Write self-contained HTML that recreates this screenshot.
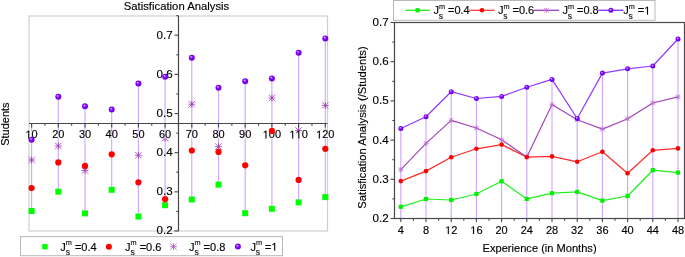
<!DOCTYPE html>
<html><head><meta charset="utf-8"><style>
html,body{margin:0;padding:0;background:#fff;}
body{width:685px;height:257px;overflow:hidden;}
svg{display:block;font-family:"Liberation Sans", sans-serif;}
text{filter:grayscale(1);stroke:#000;stroke-width:0.15px;}
</style></head><body>
<svg width="685" height="257" viewBox="0 0 685 257">
<defs>
<radialGradient id="sph" cx="0.5" cy="0.5" r="0.55" fx="0.36" fy="0.32"><stop offset="0" stop-color="#f0e4ff"/><stop offset="0.22" stop-color="#a860ff"/><stop offset="0.5" stop-color="#8000ff"/><stop offset="1" stop-color="#6800e0"/></radialGradient>
</defs>
<text x="176.5" y="9.8" font-size="11.3" text-anchor="middle" fill="#000">Satisfication Analysis</text>
<text transform="translate(9.4,124.1) rotate(-90)" font-size="11" text-anchor="middle" fill="#000">Students</text>
<rect x="29.0" y="16.0" width="298.5" height="215.0" fill="none" stroke="#cfcfcf" stroke-width="1.2"/>
<line x1="31.60" y1="123.50" x2="31.60" y2="211.00" stroke="#d0a8ff" stroke-width="1.15"/>
<line x1="58.30" y1="96.80" x2="58.30" y2="191.70" stroke="#d0a8ff" stroke-width="1.15"/>
<line x1="85.00" y1="106.30" x2="85.00" y2="213.40" stroke="#d0a8ff" stroke-width="1.15"/>
<line x1="111.70" y1="109.60" x2="111.70" y2="189.80" stroke="#d0a8ff" stroke-width="1.15"/>
<line x1="138.40" y1="83.60" x2="138.40" y2="216.50" stroke="#d0a8ff" stroke-width="1.15"/>
<line x1="165.10" y1="76.80" x2="165.10" y2="205.20" stroke="#d0a8ff" stroke-width="1.15"/>
<line x1="191.80" y1="57.70" x2="191.80" y2="199.50" stroke="#d0a8ff" stroke-width="1.15"/>
<line x1="218.50" y1="87.70" x2="218.50" y2="184.60" stroke="#d0a8ff" stroke-width="1.15"/>
<line x1="245.20" y1="81.20" x2="245.20" y2="213.20" stroke="#d0a8ff" stroke-width="1.15"/>
<line x1="271.90" y1="78.40" x2="271.90" y2="208.80" stroke="#d0a8ff" stroke-width="1.15"/>
<line x1="298.60" y1="52.70" x2="298.60" y2="202.40" stroke="#d0a8ff" stroke-width="1.15"/>
<line x1="325.30" y1="38.40" x2="325.30" y2="197.10" stroke="#d0a8ff" stroke-width="1.15"/>
<g stroke="#9a30ae" stroke-width="0.75"><line x1="28.10" y1="160.00" x2="35.10" y2="160.00"/><line x1="31.60" y1="156.50" x2="31.60" y2="163.50"/><line x1="28.38" y1="156.78" x2="34.82" y2="163.22"/><line x1="28.38" y1="163.22" x2="34.82" y2="156.78"/></g>
<g stroke="#9a30ae" stroke-width="0.75"><line x1="54.80" y1="146.00" x2="61.80" y2="146.00"/><line x1="58.30" y1="142.50" x2="58.30" y2="149.50"/><line x1="55.08" y1="142.78" x2="61.52" y2="149.22"/><line x1="55.08" y1="149.22" x2="61.52" y2="142.78"/></g>
<g stroke="#9a30ae" stroke-width="0.75"><line x1="81.50" y1="170.50" x2="88.50" y2="170.50"/><line x1="85.00" y1="167.00" x2="85.00" y2="174.00"/><line x1="81.78" y1="167.28" x2="88.22" y2="173.72"/><line x1="81.78" y1="173.72" x2="88.22" y2="167.28"/></g>
<g stroke="#9a30ae" stroke-width="0.75"><line x1="108.20" y1="133.00" x2="115.20" y2="133.00"/><line x1="111.70" y1="129.50" x2="111.70" y2="136.50"/><line x1="108.48" y1="129.78" x2="114.92" y2="136.22"/><line x1="108.48" y1="136.22" x2="114.92" y2="129.78"/></g>
<g stroke="#9a30ae" stroke-width="0.75"><line x1="134.90" y1="155.20" x2="141.90" y2="155.20"/><line x1="138.40" y1="151.70" x2="138.40" y2="158.70"/><line x1="135.18" y1="151.98" x2="141.62" y2="158.42"/><line x1="135.18" y1="158.42" x2="141.62" y2="151.98"/></g>
<g stroke="#9a30ae" stroke-width="0.75"><line x1="161.60" y1="138.20" x2="168.60" y2="138.20"/><line x1="165.10" y1="134.70" x2="165.10" y2="141.70"/><line x1="161.88" y1="134.98" x2="168.32" y2="141.42"/><line x1="161.88" y1="141.42" x2="168.32" y2="134.98"/></g>
<g stroke="#9a30ae" stroke-width="0.75"><line x1="188.30" y1="104.20" x2="195.30" y2="104.20"/><line x1="191.80" y1="100.70" x2="191.80" y2="107.70"/><line x1="188.58" y1="100.98" x2="195.02" y2="107.42"/><line x1="188.58" y1="107.42" x2="195.02" y2="100.98"/></g>
<g stroke="#9a30ae" stroke-width="0.75"><line x1="215.00" y1="146.60" x2="222.00" y2="146.60"/><line x1="218.50" y1="143.10" x2="218.50" y2="150.10"/><line x1="215.28" y1="143.38" x2="221.72" y2="149.82"/><line x1="215.28" y1="149.82" x2="221.72" y2="143.38"/></g>
<g stroke="#9a30ae" stroke-width="0.75"><line x1="241.70" y1="134.80" x2="248.70" y2="134.80"/><line x1="245.20" y1="131.30" x2="245.20" y2="138.30"/><line x1="241.98" y1="131.58" x2="248.42" y2="138.02"/><line x1="241.98" y1="138.02" x2="248.42" y2="131.58"/></g>
<g stroke="#9a30ae" stroke-width="0.75"><line x1="268.40" y1="98.00" x2="275.40" y2="98.00"/><line x1="271.90" y1="94.50" x2="271.90" y2="101.50"/><line x1="268.68" y1="94.78" x2="275.12" y2="101.22"/><line x1="268.68" y1="101.22" x2="275.12" y2="94.78"/></g>
<g stroke="#9a30ae" stroke-width="0.75"><line x1="295.10" y1="130.50" x2="302.10" y2="130.50"/><line x1="298.60" y1="127.00" x2="298.60" y2="134.00"/><line x1="295.38" y1="127.28" x2="301.82" y2="133.72"/><line x1="295.38" y1="133.72" x2="301.82" y2="127.28"/></g>
<g stroke="#9a30ae" stroke-width="0.75"><line x1="321.80" y1="105.40" x2="328.80" y2="105.40"/><line x1="325.30" y1="101.90" x2="325.30" y2="108.90"/><line x1="322.08" y1="102.18" x2="328.52" y2="108.62"/><line x1="322.08" y1="108.62" x2="328.52" y2="102.18"/></g>
<line x1="178.5" y1="16.0" x2="178.5" y2="231.0" stroke="#474747" stroke-width="1.2"/>
<line x1="29.0" y1="123.5" x2="327.5" y2="123.5" stroke="#474747" stroke-width="1.2"/>
<line x1="174.50" y1="231.00" x2="178.5" y2="231.00" stroke="#474747" stroke-width="1.1"/>
<text x="156.47" y="234.40" font-size="11.6" fill="#000">0.2</text>
<line x1="176.30" y1="211.42" x2="178.5" y2="211.42" stroke="#474747" stroke-width="1.1"/>
<line x1="174.50" y1="191.84" x2="178.5" y2="191.84" stroke="#474747" stroke-width="1.1"/>
<text x="156.47" y="195.24" font-size="11.6" fill="#000">0.3</text>
<line x1="176.30" y1="172.26" x2="178.5" y2="172.26" stroke="#474747" stroke-width="1.1"/>
<line x1="174.50" y1="152.68" x2="178.5" y2="152.68" stroke="#474747" stroke-width="1.1"/>
<text x="156.47" y="156.08" font-size="11.6" fill="#000">0.4</text>
<line x1="176.30" y1="133.10" x2="178.5" y2="133.10" stroke="#474747" stroke-width="1.1"/>
<line x1="174.50" y1="113.52" x2="178.5" y2="113.52" stroke="#474747" stroke-width="1.1"/>
<text x="156.47" y="116.92" font-size="11.6" fill="#000">0.5</text>
<line x1="176.30" y1="93.94" x2="178.5" y2="93.94" stroke="#474747" stroke-width="1.1"/>
<line x1="174.50" y1="74.36" x2="178.5" y2="74.36" stroke="#474747" stroke-width="1.1"/>
<text x="156.47" y="77.76" font-size="11.6" fill="#000">0.6</text>
<line x1="176.30" y1="54.78" x2="178.5" y2="54.78" stroke="#474747" stroke-width="1.1"/>
<line x1="174.50" y1="35.20" x2="178.5" y2="35.20" stroke="#474747" stroke-width="1.1"/>
<text x="156.47" y="38.60" font-size="11.6" fill="#000">0.7</text>
<line x1="176.30" y1="15.62" x2="178.5" y2="15.62" stroke="#474747" stroke-width="1.1"/>
<line x1="31.60" y1="123.5" x2="31.60" y2="127.5" stroke="#474747" stroke-width="1.1"/>
<rect x="25.48" y="131" width="12.24" height="7.6" fill="#fff" fill-opacity="0.7"/>
<text x="25.48" y="138.40" font-size="11" fill="#000"> 0</text><path d="M515,0L696,0L696,1409L530,1409L197,1180L197,1010L515,1237Z" fill="#000" stroke="#000" stroke-width="27.9" transform="translate(25.48,138.40) scale(0.005371,-0.005371)"/>
<line x1="44.95" y1="123.5" x2="44.95" y2="125.7" stroke="#474747" stroke-width="1.1"/>
<line x1="58.30" y1="123.5" x2="58.30" y2="127.5" stroke="#474747" stroke-width="1.1"/>
<rect x="52.18" y="131" width="12.24" height="7.6" fill="#fff" fill-opacity="0.7"/>
<text x="52.18" y="138.40" font-size="11" fill="#000">20</text>
<line x1="71.65" y1="123.5" x2="71.65" y2="125.7" stroke="#474747" stroke-width="1.1"/>
<line x1="85.00" y1="123.5" x2="85.00" y2="127.5" stroke="#474747" stroke-width="1.1"/>
<rect x="78.88" y="131" width="12.24" height="7.6" fill="#fff" fill-opacity="0.7"/>
<text x="78.88" y="138.40" font-size="11" fill="#000">30</text>
<line x1="98.35" y1="123.5" x2="98.35" y2="125.7" stroke="#474747" stroke-width="1.1"/>
<line x1="111.70" y1="123.5" x2="111.70" y2="127.5" stroke="#474747" stroke-width="1.1"/>
<rect x="105.58" y="131" width="12.24" height="7.6" fill="#fff" fill-opacity="0.7"/>
<text x="105.58" y="138.40" font-size="11" fill="#000">40</text>
<line x1="125.05" y1="123.5" x2="125.05" y2="125.7" stroke="#474747" stroke-width="1.1"/>
<line x1="138.40" y1="123.5" x2="138.40" y2="127.5" stroke="#474747" stroke-width="1.1"/>
<rect x="132.28" y="131" width="12.24" height="7.6" fill="#fff" fill-opacity="0.7"/>
<text x="132.28" y="138.40" font-size="11" fill="#000">50</text>
<line x1="151.75" y1="123.5" x2="151.75" y2="125.7" stroke="#474747" stroke-width="1.1"/>
<line x1="165.10" y1="123.5" x2="165.10" y2="127.5" stroke="#474747" stroke-width="1.1"/>
<rect x="158.98" y="131" width="12.24" height="7.6" fill="#fff" fill-opacity="0.7"/>
<text x="158.98" y="138.40" font-size="11" fill="#000">60</text>
<line x1="178.45" y1="123.5" x2="178.45" y2="125.7" stroke="#474747" stroke-width="1.1"/>
<line x1="191.80" y1="123.5" x2="191.80" y2="127.5" stroke="#474747" stroke-width="1.1"/>
<rect x="185.68" y="131" width="12.24" height="7.6" fill="#fff" fill-opacity="0.7"/>
<text x="185.68" y="138.40" font-size="11" fill="#000">70</text>
<line x1="205.15" y1="123.5" x2="205.15" y2="125.7" stroke="#474747" stroke-width="1.1"/>
<line x1="218.50" y1="123.5" x2="218.50" y2="127.5" stroke="#474747" stroke-width="1.1"/>
<rect x="212.38" y="131" width="12.24" height="7.6" fill="#fff" fill-opacity="0.7"/>
<text x="212.38" y="138.40" font-size="11" fill="#000">80</text>
<line x1="231.85" y1="123.5" x2="231.85" y2="125.7" stroke="#474747" stroke-width="1.1"/>
<line x1="245.20" y1="123.5" x2="245.20" y2="127.5" stroke="#474747" stroke-width="1.1"/>
<rect x="239.08" y="131" width="12.24" height="7.6" fill="#fff" fill-opacity="0.7"/>
<text x="239.08" y="138.40" font-size="11" fill="#000">90</text>
<line x1="258.55" y1="123.5" x2="258.55" y2="125.7" stroke="#474747" stroke-width="1.1"/>
<line x1="271.90" y1="123.5" x2="271.90" y2="127.5" stroke="#474747" stroke-width="1.1"/>
<rect x="262.72" y="131" width="18.35" height="7.6" fill="#fff" fill-opacity="0.7"/>
<text x="262.72" y="138.40" font-size="11" fill="#000"> 00</text><path d="M515,0L696,0L696,1409L530,1409L197,1180L197,1010L515,1237Z" fill="#000" stroke="#000" stroke-width="27.9" transform="translate(262.72,138.40) scale(0.005371,-0.005371)"/>
<line x1="285.25" y1="123.5" x2="285.25" y2="125.7" stroke="#474747" stroke-width="1.1"/>
<line x1="298.60" y1="123.5" x2="298.60" y2="127.5" stroke="#474747" stroke-width="1.1"/>
<rect x="289.42" y="131" width="18.35" height="7.6" fill="#fff" fill-opacity="0.7"/>
<text x="289.42" y="138.40" font-size="11" fill="#000">  0</text><path d="M515,0L696,0L696,1409L530,1409L197,1180L197,1010L515,1237Z" fill="#000" stroke="#000" stroke-width="27.9" transform="translate(289.42,138.40) scale(0.005371,-0.005371)"/><path d="M515,0L696,0L696,1409L530,1409L197,1180L197,1010L515,1237Z" fill="#000" stroke="#000" stroke-width="27.9" transform="translate(295.54,138.40) scale(0.005371,-0.005371)"/>
<line x1="311.95" y1="123.5" x2="311.95" y2="125.7" stroke="#474747" stroke-width="1.1"/>
<line x1="325.30" y1="123.5" x2="325.30" y2="127.5" stroke="#474747" stroke-width="1.1"/>
<rect x="316.12" y="131" width="18.35" height="7.6" fill="#fff" fill-opacity="0.7"/>
<text x="316.12" y="138.40" font-size="11" fill="#000"> 20</text><path d="M515,0L696,0L696,1409L530,1409L197,1180L197,1010L515,1237Z" fill="#000" stroke="#000" stroke-width="27.9" transform="translate(316.12,138.40) scale(0.005371,-0.005371)"/>
<rect x="28.60" y="208.00" width="6" height="6" fill="#00ff00"/>
<rect x="55.30" y="188.70" width="6" height="6" fill="#00ff00"/>
<rect x="82.00" y="210.40" width="6" height="6" fill="#00ff00"/>
<rect x="108.70" y="186.80" width="6" height="6" fill="#00ff00"/>
<rect x="135.40" y="213.50" width="6" height="6" fill="#00ff00"/>
<rect x="162.10" y="202.20" width="6" height="6" fill="#00ff00"/>
<rect x="188.80" y="196.50" width="6" height="6" fill="#00ff00"/>
<rect x="215.50" y="181.60" width="6" height="6" fill="#00ff00"/>
<rect x="242.20" y="210.20" width="6" height="6" fill="#00ff00"/>
<rect x="268.90" y="205.80" width="6" height="6" fill="#00ff00"/>
<rect x="295.60" y="199.40" width="6" height="6" fill="#00ff00"/>
<rect x="322.30" y="194.10" width="6" height="6" fill="#00ff00"/>
<circle cx="31.60" cy="188.00" r="3.1" fill="#ff0000"/>
<circle cx="58.30" cy="162.40" r="3.1" fill="#ff0000"/>
<circle cx="85.00" cy="165.90" r="3.1" fill="#ff0000"/>
<circle cx="111.70" cy="154.30" r="3.1" fill="#ff0000"/>
<circle cx="138.40" cy="182.30" r="3.1" fill="#ff0000"/>
<circle cx="165.10" cy="199.20" r="3.1" fill="#ff0000"/>
<circle cx="191.80" cy="150.50" r="3.1" fill="#ff0000"/>
<circle cx="218.50" cy="151.90" r="3.1" fill="#ff0000"/>
<circle cx="245.20" cy="165.30" r="3.1" fill="#ff0000"/>
<circle cx="271.90" cy="130.90" r="3.1" fill="#ff0000"/>
<circle cx="298.60" cy="179.90" r="3.1" fill="#ff0000"/>
<circle cx="325.30" cy="148.80" r="3.1" fill="#ff0000"/>
<circle cx="31.60" cy="139.80" r="3.0" fill="url(#sph)"/>
<circle cx="58.30" cy="96.80" r="3.0" fill="url(#sph)"/>
<circle cx="85.00" cy="106.30" r="3.0" fill="url(#sph)"/>
<circle cx="111.70" cy="109.60" r="3.0" fill="url(#sph)"/>
<circle cx="138.40" cy="83.60" r="3.0" fill="url(#sph)"/>
<circle cx="165.10" cy="76.80" r="3.0" fill="url(#sph)"/>
<circle cx="191.80" cy="57.70" r="3.0" fill="url(#sph)"/>
<circle cx="218.50" cy="87.70" r="3.0" fill="url(#sph)"/>
<circle cx="245.20" cy="81.20" r="3.0" fill="url(#sph)"/>
<circle cx="271.90" cy="78.40" r="3.0" fill="url(#sph)"/>
<circle cx="298.60" cy="52.70" r="3.0" fill="url(#sph)"/>
<circle cx="325.30" cy="38.40" r="3.0" fill="url(#sph)"/>
<rect x="20.5" y="236.6" width="262" height="19.1" fill="#fff" stroke="#b8b8b8" stroke-width="1"/>
<rect x="42.2" y="244.1" width="5.4" height="5.2" fill="#00ff00"/>
<text x="60.30" y="250.6" font-size="11" fill="#000">J</text><text x="65.80" y="244.79999999999998" font-size="7.3" fill="#222">m</text><text x="65.70" y="255.2" font-size="8.6" fill="#222">s</text><text x="74.90" y="250.6" font-size="11" fill="#000">=</text><text x="81.32" y="250.60" font-size="11" fill="#000">0.4</text>
<circle cx="108.9" cy="246.7" r="3" fill="#ff0000"/>
<text x="125.10" y="250.6" font-size="11" fill="#000">J</text><text x="130.60" y="244.79999999999998" font-size="7.3" fill="#222">m</text><text x="130.50" y="255.2" font-size="8.6" fill="#222">s</text><text x="139.70" y="250.6" font-size="11" fill="#000">=</text><text x="146.12" y="250.60" font-size="11" fill="#000">0.6</text>
<g stroke="#a040b4" stroke-width="0.7"><line x1="170.00" y1="246.70" x2="177.00" y2="246.70"/><line x1="173.50" y1="243.20" x2="173.50" y2="250.20"/><line x1="170.28" y1="243.48" x2="176.72" y2="249.92"/><line x1="170.28" y1="249.92" x2="176.72" y2="243.48"/></g>
<text x="189.00" y="250.6" font-size="11" fill="#000">J</text><text x="194.50" y="244.79999999999998" font-size="7.3" fill="#222">m</text><text x="194.40" y="255.2" font-size="8.6" fill="#222">s</text><text x="203.60" y="250.6" font-size="11" fill="#000">=</text><text x="210.02" y="250.60" font-size="11" fill="#000">0.8</text>
<circle cx="237.90" cy="246.60" r="3.0" fill="url(#sph)"/>
<text x="250.40" y="250.6" font-size="11" fill="#000">J</text><text x="255.90" y="244.79999999999998" font-size="7.3" fill="#222">m</text><text x="255.80" y="255.2" font-size="8.6" fill="#222">s</text><text x="265.00" y="250.6" font-size="11" fill="#000">=</text><text x="271.42" y="250.60" font-size="11" fill="#000"> </text><path d="M515,0L696,0L696,1409L530,1409L197,1180L197,1010L515,1237Z" fill="#000" stroke="#000" stroke-width="27.9" transform="translate(271.42,250.60) scale(0.005371,-0.005371)"/>
<line x1="400.80" y1="128.50" x2="400.80" y2="218.5" stroke="#d0a8ff" stroke-width="1.15"/>
<line x1="426.00" y1="116.80" x2="426.00" y2="218.5" stroke="#d0a8ff" stroke-width="1.15"/>
<line x1="451.20" y1="91.70" x2="451.20" y2="218.5" stroke="#d0a8ff" stroke-width="1.15"/>
<line x1="476.40" y1="98.50" x2="476.40" y2="218.5" stroke="#d0a8ff" stroke-width="1.15"/>
<line x1="501.60" y1="96.40" x2="501.60" y2="218.5" stroke="#d0a8ff" stroke-width="1.15"/>
<line x1="526.80" y1="87.20" x2="526.80" y2="218.5" stroke="#d0a8ff" stroke-width="1.15"/>
<line x1="552.00" y1="79.40" x2="552.00" y2="218.5" stroke="#d0a8ff" stroke-width="1.15"/>
<line x1="577.20" y1="118.50" x2="577.20" y2="218.5" stroke="#d0a8ff" stroke-width="1.15"/>
<line x1="602.40" y1="73.10" x2="602.40" y2="218.5" stroke="#d0a8ff" stroke-width="1.15"/>
<line x1="627.60" y1="68.80" x2="627.60" y2="218.5" stroke="#d0a8ff" stroke-width="1.15"/>
<line x1="652.80" y1="66.00" x2="652.80" y2="218.5" stroke="#d0a8ff" stroke-width="1.15"/>
<line x1="678.00" y1="39.00" x2="678.00" y2="218.5" stroke="#d0a8ff" stroke-width="1.15"/>
<rect x="394.5" y="22.5" width="290.0" height="196.0" fill="none" stroke="#474747" stroke-width="1.2"/>
<line x1="390.50" y1="218.50" x2="394.5" y2="218.50" stroke="#474747" stroke-width="1.1"/>
<text x="372.47" y="221.90" font-size="11.6" fill="#000">0.2</text>
<line x1="392.30" y1="198.90" x2="394.5" y2="198.90" stroke="#474747" stroke-width="1.1"/>
<line x1="390.50" y1="179.30" x2="394.5" y2="179.30" stroke="#474747" stroke-width="1.1"/>
<text x="372.47" y="182.70" font-size="11.6" fill="#000">0.3</text>
<line x1="392.30" y1="159.70" x2="394.5" y2="159.70" stroke="#474747" stroke-width="1.1"/>
<line x1="390.50" y1="140.10" x2="394.5" y2="140.10" stroke="#474747" stroke-width="1.1"/>
<text x="372.47" y="143.50" font-size="11.6" fill="#000">0.4</text>
<line x1="392.30" y1="120.50" x2="394.5" y2="120.50" stroke="#474747" stroke-width="1.1"/>
<line x1="390.50" y1="100.90" x2="394.5" y2="100.90" stroke="#474747" stroke-width="1.1"/>
<text x="372.47" y="104.30" font-size="11.6" fill="#000">0.5</text>
<line x1="392.30" y1="81.30" x2="394.5" y2="81.30" stroke="#474747" stroke-width="1.1"/>
<line x1="390.50" y1="61.70" x2="394.5" y2="61.70" stroke="#474747" stroke-width="1.1"/>
<text x="372.47" y="65.10" font-size="11.6" fill="#000">0.6</text>
<line x1="392.30" y1="42.10" x2="394.5" y2="42.10" stroke="#474747" stroke-width="1.1"/>
<line x1="390.50" y1="22.50" x2="394.5" y2="22.50" stroke="#474747" stroke-width="1.1"/>
<text x="372.47" y="25.90" font-size="11.6" fill="#000">0.7</text>
<line x1="400.80" y1="218.5" x2="400.80" y2="222.1" stroke="#474747" stroke-width="1.1"/>
<text x="397.74" y="234.00" font-size="11" fill="#000">4</text>
<line x1="413.40" y1="218.5" x2="413.40" y2="220.7" stroke="#474747" stroke-width="1.1"/>
<line x1="426.00" y1="218.5" x2="426.00" y2="222.1" stroke="#474747" stroke-width="1.1"/>
<text x="422.94" y="234.00" font-size="11" fill="#000">8</text>
<line x1="438.60" y1="218.5" x2="438.60" y2="220.7" stroke="#474747" stroke-width="1.1"/>
<line x1="451.20" y1="218.5" x2="451.20" y2="222.1" stroke="#474747" stroke-width="1.1"/>
<text x="445.08" y="234.00" font-size="11" fill="#000"> 2</text><path d="M515,0L696,0L696,1409L530,1409L197,1180L197,1010L515,1237Z" fill="#000" stroke="#000" stroke-width="27.9" transform="translate(445.08,234.00) scale(0.005371,-0.005371)"/>
<line x1="463.80" y1="218.5" x2="463.80" y2="220.7" stroke="#474747" stroke-width="1.1"/>
<line x1="476.40" y1="218.5" x2="476.40" y2="222.1" stroke="#474747" stroke-width="1.1"/>
<text x="470.28" y="234.00" font-size="11" fill="#000"> 6</text><path d="M515,0L696,0L696,1409L530,1409L197,1180L197,1010L515,1237Z" fill="#000" stroke="#000" stroke-width="27.9" transform="translate(470.28,234.00) scale(0.005371,-0.005371)"/>
<line x1="489.00" y1="218.5" x2="489.00" y2="220.7" stroke="#474747" stroke-width="1.1"/>
<line x1="501.60" y1="218.5" x2="501.60" y2="222.1" stroke="#474747" stroke-width="1.1"/>
<text x="495.48" y="234.00" font-size="11" fill="#000">20</text>
<line x1="514.20" y1="218.5" x2="514.20" y2="220.7" stroke="#474747" stroke-width="1.1"/>
<line x1="526.80" y1="218.5" x2="526.80" y2="222.1" stroke="#474747" stroke-width="1.1"/>
<text x="520.68" y="234.00" font-size="11" fill="#000">24</text>
<line x1="539.40" y1="218.5" x2="539.40" y2="220.7" stroke="#474747" stroke-width="1.1"/>
<line x1="552.00" y1="218.5" x2="552.00" y2="222.1" stroke="#474747" stroke-width="1.1"/>
<text x="545.88" y="234.00" font-size="11" fill="#000">28</text>
<line x1="564.60" y1="218.5" x2="564.60" y2="220.7" stroke="#474747" stroke-width="1.1"/>
<line x1="577.20" y1="218.5" x2="577.20" y2="222.1" stroke="#474747" stroke-width="1.1"/>
<text x="571.08" y="234.00" font-size="11" fill="#000">32</text>
<line x1="589.80" y1="218.5" x2="589.80" y2="220.7" stroke="#474747" stroke-width="1.1"/>
<line x1="602.40" y1="218.5" x2="602.40" y2="222.1" stroke="#474747" stroke-width="1.1"/>
<text x="596.28" y="234.00" font-size="11" fill="#000">36</text>
<line x1="615.00" y1="218.5" x2="615.00" y2="220.7" stroke="#474747" stroke-width="1.1"/>
<line x1="627.60" y1="218.5" x2="627.60" y2="222.1" stroke="#474747" stroke-width="1.1"/>
<text x="621.48" y="234.00" font-size="11" fill="#000">40</text>
<line x1="640.20" y1="218.5" x2="640.20" y2="220.7" stroke="#474747" stroke-width="1.1"/>
<line x1="652.80" y1="218.5" x2="652.80" y2="222.1" stroke="#474747" stroke-width="1.1"/>
<text x="646.68" y="234.00" font-size="11" fill="#000">44</text>
<line x1="665.40" y1="218.5" x2="665.40" y2="220.7" stroke="#474747" stroke-width="1.1"/>
<line x1="678.00" y1="218.5" x2="678.00" y2="222.1" stroke="#474747" stroke-width="1.1"/>
<text x="671.88" y="234.00" font-size="11" fill="#000">48</text>
<text x="539.6" y="252.0" font-size="11.1" text-anchor="middle" fill="#000">Experience (in Months)</text>
<text transform="translate(366.4,127.5) rotate(-90)" font-size="11.2" text-anchor="middle" fill="#000">Satisfication Analysis (/Students)</text>
<polyline points="400.80,206.80 426.00,199.00 451.20,200.00 476.40,194.00 501.60,181.20 526.80,198.90 552.00,193.20 577.20,191.90 602.40,200.60 627.60,196.00 652.80,170.20 678.00,172.60" fill="none" stroke="#22ee22" stroke-width="1.25" stroke-linejoin="round"/>
<polyline points="400.80,181.10 426.00,171.10 451.20,157.30 476.40,148.80 501.60,144.60 526.80,157.10 552.00,156.40 577.20,161.80 602.40,151.80 627.60,173.30 652.80,150.30 678.00,148.40" fill="none" stroke="#ff2a2a" stroke-width="1.2" stroke-linejoin="round"/>
<polyline points="400.80,169.70 426.00,143.40 451.20,120.40 476.40,128.00 501.60,139.80 526.80,157.00 552.00,104.50 577.20,119.80 602.40,129.10 627.60,118.70 652.80,103.00 678.00,96.90" fill="none" stroke="#a445bb" stroke-width="1.2" stroke-linejoin="round"/>
<polyline points="400.80,128.50 426.00,116.80 451.20,91.70 476.40,98.50 501.60,96.40 526.80,87.20 552.00,79.40 577.20,118.50 602.40,73.10 627.60,68.80 652.80,66.00 678.00,39.00" fill="none" stroke="#9038ff" stroke-width="1.2" stroke-linejoin="round"/>
<g stroke="#c070d0" stroke-width="0.8"><line x1="398.30" y1="169.70" x2="403.30" y2="169.70"/><line x1="400.80" y1="167.20" x2="400.80" y2="172.20"/><line x1="398.50" y1="167.40" x2="403.10" y2="172.00"/><line x1="398.50" y1="172.00" x2="403.10" y2="167.40"/></g>
<g stroke="#c070d0" stroke-width="0.8"><line x1="423.50" y1="143.40" x2="428.50" y2="143.40"/><line x1="426.00" y1="140.90" x2="426.00" y2="145.90"/><line x1="423.70" y1="141.10" x2="428.30" y2="145.70"/><line x1="423.70" y1="145.70" x2="428.30" y2="141.10"/></g>
<g stroke="#c070d0" stroke-width="0.8"><line x1="448.70" y1="120.40" x2="453.70" y2="120.40"/><line x1="451.20" y1="117.90" x2="451.20" y2="122.90"/><line x1="448.90" y1="118.10" x2="453.50" y2="122.70"/><line x1="448.90" y1="122.70" x2="453.50" y2="118.10"/></g>
<g stroke="#c070d0" stroke-width="0.8"><line x1="473.90" y1="128.00" x2="478.90" y2="128.00"/><line x1="476.40" y1="125.50" x2="476.40" y2="130.50"/><line x1="474.10" y1="125.70" x2="478.70" y2="130.30"/><line x1="474.10" y1="130.30" x2="478.70" y2="125.70"/></g>
<g stroke="#c070d0" stroke-width="0.8"><line x1="499.10" y1="139.80" x2="504.10" y2="139.80"/><line x1="501.60" y1="137.30" x2="501.60" y2="142.30"/><line x1="499.30" y1="137.50" x2="503.90" y2="142.10"/><line x1="499.30" y1="142.10" x2="503.90" y2="137.50"/></g>
<g stroke="#c070d0" stroke-width="0.8"><line x1="524.30" y1="157.00" x2="529.30" y2="157.00"/><line x1="526.80" y1="154.50" x2="526.80" y2="159.50"/><line x1="524.50" y1="154.70" x2="529.10" y2="159.30"/><line x1="524.50" y1="159.30" x2="529.10" y2="154.70"/></g>
<g stroke="#c070d0" stroke-width="0.8"><line x1="549.50" y1="104.50" x2="554.50" y2="104.50"/><line x1="552.00" y1="102.00" x2="552.00" y2="107.00"/><line x1="549.70" y1="102.20" x2="554.30" y2="106.80"/><line x1="549.70" y1="106.80" x2="554.30" y2="102.20"/></g>
<g stroke="#c070d0" stroke-width="0.8"><line x1="574.70" y1="119.80" x2="579.70" y2="119.80"/><line x1="577.20" y1="117.30" x2="577.20" y2="122.30"/><line x1="574.90" y1="117.50" x2="579.50" y2="122.10"/><line x1="574.90" y1="122.10" x2="579.50" y2="117.50"/></g>
<g stroke="#c070d0" stroke-width="0.8"><line x1="599.90" y1="129.10" x2="604.90" y2="129.10"/><line x1="602.40" y1="126.60" x2="602.40" y2="131.60"/><line x1="600.10" y1="126.80" x2="604.70" y2="131.40"/><line x1="600.10" y1="131.40" x2="604.70" y2="126.80"/></g>
<g stroke="#c070d0" stroke-width="0.8"><line x1="625.10" y1="118.70" x2="630.10" y2="118.70"/><line x1="627.60" y1="116.20" x2="627.60" y2="121.20"/><line x1="625.30" y1="116.40" x2="629.90" y2="121.00"/><line x1="625.30" y1="121.00" x2="629.90" y2="116.40"/></g>
<g stroke="#c070d0" stroke-width="0.8"><line x1="650.30" y1="103.00" x2="655.30" y2="103.00"/><line x1="652.80" y1="100.50" x2="652.80" y2="105.50"/><line x1="650.50" y1="100.70" x2="655.10" y2="105.30"/><line x1="650.50" y1="105.30" x2="655.10" y2="100.70"/></g>
<g stroke="#c070d0" stroke-width="0.8"><line x1="675.50" y1="96.90" x2="680.50" y2="96.90"/><line x1="678.00" y1="94.40" x2="678.00" y2="99.40"/><line x1="675.70" y1="94.60" x2="680.30" y2="99.20"/><line x1="675.70" y1="99.20" x2="680.30" y2="94.60"/></g>
<rect x="398.70" y="204.70" width="4.2" height="4.2" fill="#00ee00"/>
<rect x="423.90" y="196.90" width="4.2" height="4.2" fill="#00ee00"/>
<rect x="449.10" y="197.90" width="4.2" height="4.2" fill="#00ee00"/>
<rect x="474.30" y="191.90" width="4.2" height="4.2" fill="#00ee00"/>
<rect x="499.50" y="179.10" width="4.2" height="4.2" fill="#00ee00"/>
<rect x="524.70" y="196.80" width="4.2" height="4.2" fill="#00ee00"/>
<rect x="549.90" y="191.10" width="4.2" height="4.2" fill="#00ee00"/>
<rect x="575.10" y="189.80" width="4.2" height="4.2" fill="#00ee00"/>
<rect x="600.30" y="198.50" width="4.2" height="4.2" fill="#00ee00"/>
<rect x="625.50" y="193.90" width="4.2" height="4.2" fill="#00ee00"/>
<rect x="650.70" y="168.10" width="4.2" height="4.2" fill="#00ee00"/>
<rect x="675.90" y="170.50" width="4.2" height="4.2" fill="#00ee00"/>
<circle cx="400.80" cy="181.10" r="2.3" fill="#ff0000"/>
<circle cx="426.00" cy="171.10" r="2.3" fill="#ff0000"/>
<circle cx="451.20" cy="157.30" r="2.3" fill="#ff0000"/>
<circle cx="476.40" cy="148.80" r="2.3" fill="#ff0000"/>
<circle cx="501.60" cy="144.60" r="2.3" fill="#ff0000"/>
<circle cx="526.80" cy="157.10" r="2.3" fill="#ff0000"/>
<circle cx="552.00" cy="156.40" r="2.3" fill="#ff0000"/>
<circle cx="577.20" cy="161.80" r="2.3" fill="#ff0000"/>
<circle cx="602.40" cy="151.80" r="2.3" fill="#ff0000"/>
<circle cx="627.60" cy="173.30" r="2.3" fill="#ff0000"/>
<circle cx="652.80" cy="150.30" r="2.3" fill="#ff0000"/>
<circle cx="678.00" cy="148.40" r="2.3" fill="#ff0000"/>
<circle cx="400.80" cy="128.50" r="2.5" fill="url(#sph)"/>
<circle cx="426.00" cy="116.80" r="2.5" fill="url(#sph)"/>
<circle cx="451.20" cy="91.70" r="2.5" fill="url(#sph)"/>
<circle cx="476.40" cy="98.50" r="2.5" fill="url(#sph)"/>
<circle cx="501.60" cy="96.40" r="2.5" fill="url(#sph)"/>
<circle cx="526.80" cy="87.20" r="2.5" fill="url(#sph)"/>
<circle cx="552.00" cy="79.40" r="2.5" fill="url(#sph)"/>
<circle cx="577.20" cy="118.50" r="2.5" fill="url(#sph)"/>
<circle cx="602.40" cy="73.10" r="2.5" fill="url(#sph)"/>
<circle cx="627.60" cy="68.80" r="2.5" fill="url(#sph)"/>
<circle cx="652.80" cy="66.00" r="2.5" fill="url(#sph)"/>
<circle cx="678.00" cy="39.00" r="2.5" fill="url(#sph)"/>
<rect x="393.5" y="0.5" width="261.5" height="19.8" fill="#fff" stroke="#b8b8b8" stroke-width="1"/>
<line x1="405.3" y1="10.3" x2="429.9" y2="10.3" stroke="#22ee22" stroke-width="1.3"/>
<rect x="415.5" y="8.2" width="4.2" height="4.2" fill="#00ee00"/>
<text x="433.40" y="14.4" font-size="11" fill="#000">J</text><text x="438.90" y="8.600000000000001" font-size="7.3" fill="#222">m</text><text x="438.80" y="19.0" font-size="8.6" fill="#222">s</text><text x="448.00" y="14.4" font-size="11" fill="#000">=</text><text x="454.42" y="14.40" font-size="11" fill="#000">0.4</text>
<line x1="469.3" y1="10.3" x2="494.6" y2="10.3" stroke="#ff2a2a" stroke-width="1.2"/>
<circle cx="482" cy="10.3" r="2.3" fill="#ff0000"/>
<text x="497.90" y="14.4" font-size="11" fill="#000">J</text><text x="503.40" y="8.600000000000001" font-size="7.3" fill="#222">m</text><text x="503.30" y="19.0" font-size="8.6" fill="#222">s</text><text x="512.50" y="14.4" font-size="11" fill="#000">=</text><text x="518.92" y="14.40" font-size="11" fill="#000">0.6</text>
<line x1="533.8" y1="10.3" x2="559" y2="10.3" stroke="#a445bb" stroke-width="1.35"/>
<g stroke="#c070d0" stroke-width="0.8"><line x1="543.90" y1="10.30" x2="548.90" y2="10.30"/><line x1="546.40" y1="7.80" x2="546.40" y2="12.80"/><line x1="544.10" y1="8.00" x2="548.70" y2="12.60"/><line x1="544.10" y1="12.60" x2="548.70" y2="8.00"/></g>
<text x="562.40" y="14.4" font-size="11" fill="#000">J</text><text x="567.90" y="8.600000000000001" font-size="7.3" fill="#222">m</text><text x="567.80" y="19.0" font-size="8.6" fill="#222">s</text><text x="577.00" y="14.4" font-size="11" fill="#000">=</text><text x="583.42" y="14.40" font-size="11" fill="#000">0.8</text>
<line x1="598.3" y1="10.3" x2="623.5" y2="10.3" stroke="#9038ff" stroke-width="1.4"/>
<circle cx="610.90" cy="10.30" r="2.5" fill="url(#sph)"/>
<text x="623.20" y="14.4" font-size="11" fill="#000">J</text><text x="628.70" y="8.600000000000001" font-size="7.3" fill="#222">m</text><text x="628.60" y="19.0" font-size="8.6" fill="#222">s</text><text x="637.80" y="14.4" font-size="11" fill="#000">=</text><text x="644.22" y="14.40" font-size="11" fill="#000"> </text><path d="M515,0L696,0L696,1409L530,1409L197,1180L197,1010L515,1237Z" fill="#000" stroke="#000" stroke-width="27.9" transform="translate(644.22,14.40) scale(0.005371,-0.005371)"/>
</svg>
</body></html>
